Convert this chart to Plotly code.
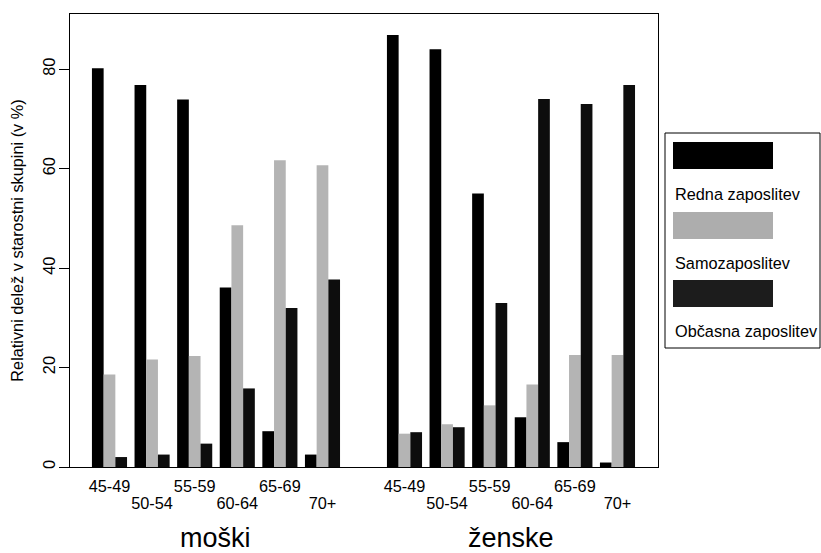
import plotly.graph_objects as go

# ---- data ----
age_groups = ["45-49", "50-54", "55-59", "60-64", "65-69", "70+"]
sexes = ["moški", "ženske"]
series_names = ["Redna zaposlitev", "Samozaposlitev", "Občasna zaposlitev"]

redna_moski = [80.2, 76.8, 73.9, 36.1, 7.2, 2.5]
samo_moski = [18.6, 21.6, 22.3, 48.6, 61.7, 60.7]
obcasna_moski = [2.0, 2.5, 4.7, 15.8, 32.0, 37.7]

redna_zenske = [86.9, 84.0, 55.0, 10.0, 5.0, 0.9]
samo_zenske = [6.7, 8.6, 12.4, 16.6, 22.5, 22.5]
obcasna_zenske = [7.0, 8.0, 33.0, 74.0, 73.0, 76.8]

y_title = "Relativni delež v starostni skupini (v %)"
y_ticks = [0, 20, 40, 60, 80]

# ---- style / layout ----
colors = ["#000000", "#b4b4b4", "#0d0d0d"]
swatch_colors = ["#000000", "#adadad", "#1c1c1c"]
FONT = "Liberation Sans, Arial, sans-serif"
FS = 16.3
W, H = 821, 553
ML, MR, MT, MB = 70, 163, 14, 86
PW, PH = W - ML - MR, H - MT - MB

n = len(age_groups)
female_shift = 6.925
x_m = [i for i in range(n)]
x_f = [i + female_shift for i in range(n)]
xs = x_m + x_f
bw = 0.2746
xrange = [-0.927, 12.876]
yrange = [0, 91.1]

vals = [redna_moski + redna_zenske,
        samo_moski + samo_zenske,
        obcasna_moski + obcasna_zenske]

fig = go.Figure()
for k, (name, v) in enumerate(zip(series_names, vals)):
    fig.add_trace(go.Bar(
        x=xs, y=v, name=name,
        width=bw, offset=(k - 1.5) * bw,
        marker=dict(color=colors[k], line=dict(width=0)),
        xaxis="x" if k < 2 else "x2",
        showlegend=False,
    ))

labels = age_groups + age_groups
row1_vals = [x for i, x in enumerate(xs) if i % 2 == 0]
row1_text = [t for i, t in enumerate(labels) if i % 2 == 0]
row2_vals = [x for i, x in enumerate(xs) if i % 2 == 1]
row2_text = [t for i, t in enumerate(labels) if i % 2 == 1]

axis_common = dict(range=xrange, showgrid=False, zeroline=False, ticks="",
                   tickfont=dict(family=FONT, size=FS, color="black"))

fig.update_layout(
    width=W, height=H,
    margin=dict(l=ML, r=MR, t=MT, b=MB),
    paper_bgcolor="white", plot_bgcolor="white",
    barmode="overlay",
    font=dict(family=FONT, color="black"),
    xaxis=dict(**axis_common, tickvals=row1_vals, ticktext=row1_text,
               showline=True, mirror=True, linecolor="black", linewidth=1,
               ticklabelstandoff=4),
    xaxis2=dict(**axis_common, tickvals=row2_vals, ticktext=row2_text,
                overlaying="x", matches="x", side="bottom", anchor="y",
                showline=False, ticklabelstandoff=25),
    yaxis=dict(range=yrange, tickvals=y_ticks, ticks="outside", ticklen=10,
               tickcolor="black", tickwidth=1, tickangle=-90,
               ticklabelstandoff=-3,
               tickfont=dict(family=FONT, size=FS, color="black"),
               showline=True, mirror=True, linecolor="black", linewidth=1,
               showgrid=False, zeroline=False,
               title=dict(text=y_title, font=dict(family=FONT, size=FS, color="black"),
                          standoff=12)),
)

def px(xp):
    return (xp - ML) / PW

def py(yp):
    return (H - MB - yp) / PH

# group labels under the age groups
for sex, grp in zip(sexes, [x_m, x_f]):
    fig.add_annotation(x=sum(grp) / len(grp), xref="x", y=py(538), yref="paper",
                       text=sex, showarrow=False,
                       font=dict(family=FONT, size=27, color="black"),
                       yanchor="middle")

# custom legend (swatch above label)
fig.add_shape(type="rect", xref="paper", yref="paper",
              x0=px(665), x1=px(820), y0=py(348), y1=py(133),
              line=dict(color="black", width=1), fillcolor="white")
sw_tops = [142, 212, 280]
lab_centers = [194, 263, 331]
for k, name in enumerate(series_names):
    fig.add_shape(type="rect", xref="paper", yref="paper",
                  x0=px(673), x1=px(773), y0=py(sw_tops[k] + 27), y1=py(sw_tops[k]),
                  line=dict(width=0), fillcolor=swatch_colors[k])
    fig.add_annotation(x=px(673), y=py(lab_centers[k]), xref="paper", yref="paper",
                       text=name, showarrow=False, xanchor="left", yanchor="middle",
                       font=dict(family=FONT, size=FS, color="black"))

fig.write_html("out.html", config={"displayModeBar": False},
               post_script="document.body.style.margin='0px';document.body.style.overflow='hidden';")
